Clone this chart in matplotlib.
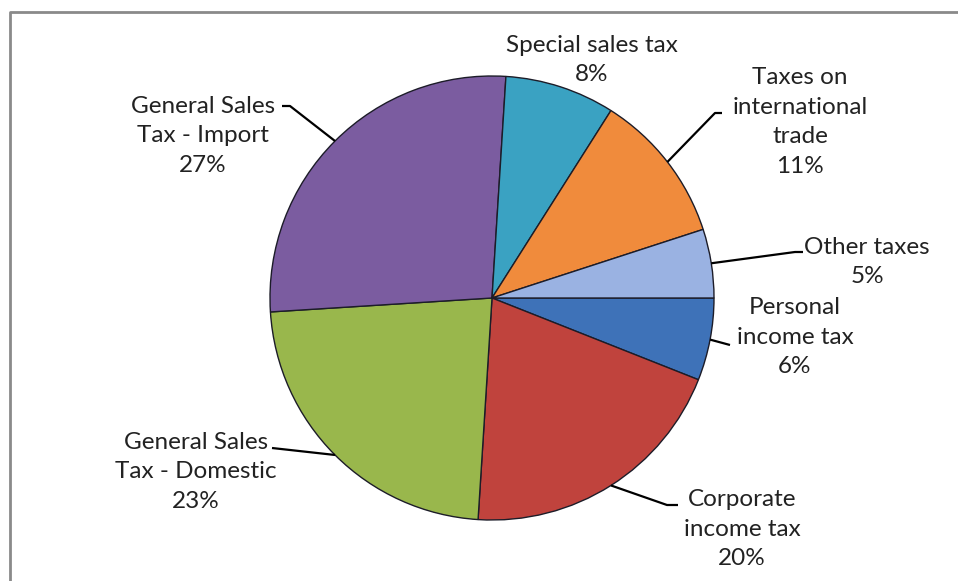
import matplotlib
matplotlib.use('Agg')
import matplotlib.pyplot as plt
import numpy as np

# Tax revenue composition, clockwise from 3 o'clock
labels = ['Personal\nincome tax', 'Corporate\nincome tax', 'General Sales\nTax - Domestic',
          'General Sales\nTax - Import', 'Special sales tax', 'Taxes on\ninternational\ntrade',
          'Other taxes']
shares = [6, 20, 23, 27, 8, 11, 5]
colors = ['#3e72b8', '#c0433d', '#99b74c', '#7b5ca0', '#3aa2c2', '#f08b3c', '#9ab2e2']

W, H = 958, 581
CX, CY, R = 492, H - 298, 222

fig = plt.figure(figsize=(W / 100, H / 100), dpi=100)
ax = fig.add_axes([0, 0, 1, 1])

wedges, _ = ax.pie(shares, colors=colors, startangle=0, counterclock=False,
                   center=(CX, CY), radius=R,
                   wedgeprops=dict(edgecolor='#1c1c28', linewidth=1))
ax.set_xlim(0, W)
ax.set_ylim(0, H)
ax.set_aspect('equal')
ax.axis('off')

# label placement (text centre) and leader line knee, pixel coords from top
label_pos = [(795, 337), (742, 529), (196, 472), (203, 136), (592, 60), (800, 122), (867, 262)]
knees = [[(730, 345)], [(667, 505), (678, 505)], [(272, 448)], [(290, 106), (282, 106)],
         None, [(715, 113), (722, 113)], [(795, 252), (803, 252)]]

tfont = dict(family=['Lato', 'DejaVu Sans'], fontsize=17.5, color='#222222')
for w, lab, pct, pos, knee in zip(wedges, labels, shares, label_pos, knees):
    ax.text(pos[0], H - pos[1], f'{lab}\n{pct}%', ha='center', va='center',
            linespacing=1.52, **tfont)
    if knee is None:
        continue
    mid = np.deg2rad((w.theta1 + w.theta2) / 2)
    px, py = CX + R * np.cos(mid), CY + R * np.sin(mid)
    xs = [px] + [k[0] for k in knee]
    ys = [py] + [H - k[1] for k in knee]
    ax.plot(xs, ys, color='black', linewidth=1.6, solid_capstyle='butt')

# chart frame
ax.plot([10, 10, W], [0, H - 12, H - 12], color='#8a8a8a', linewidth=2, clip_on=False)

fig.savefig('out.png', dpi=100, facecolor='white')
